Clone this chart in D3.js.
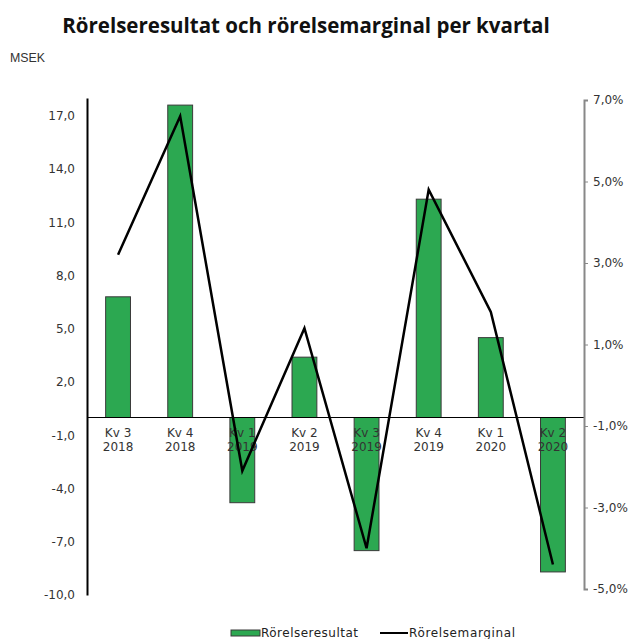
<!DOCTYPE html>
<html>
<head>
<meta charset="utf-8">
<script src="https://cdn.jsdelivr.net/npm/d3@7"></script>
<style>
    body { margin: 0; background: #fff; }
    svg { display: block; }
    .tick text { font-family: 'DejaVu Sans', Verdana, sans-serif; font-size: 12px; fill: #333; }
</style>
</head>
<body>
<svg id="chart"></svg>
<script>
const quarters = ['Kv 3', 'Kv 4', 'Kv 1', 'Kv 2', 'Kv 3', 'Kv 4', 'Kv 1', 'Kv 2'];
const years = ['2018', '2018', '2019', '2019', '2019', '2019', '2020', '2020'];
const resultat = [6.8, 17.6, -4.8, 3.4, -7.5, 12.3, 4.5, -8.7];
const marginal = [3.2, 6.6, -2.1, 1.4, -4.0, 4.8, 1.8, -4.4];
const leftTicks = [-10, -7, -4, -1, 2, 5, 8, 11, 14, 17];
const rightTicks = [-5, -3, -1, 1, 3, 5, 7];

const width = 633;
const height = 639;
const plotLeft = 87;
const plotRight = 584;

const svg = d3.select('#chart').attr('width', width).attr('height', height);

const idx = d3.range(quarters.length);

// Scales.
const x = d3.scaleBand().domain(idx).range([plotLeft, plotRight]).paddingInner(0.6).paddingOuter(0.3);
const y = d3.scaleLinear().domain([-10, 18]).range([595, 98]);
const y2 = d3.scaleLinear().domain([-5, 7]).range([589, 100]);

const comma = v => d3.format('.1f')(v).replace('.', ',').replace('−', '-');

// Title and unit.
svg.append('text')
    .attr('x', 306)
    .attr('y', 33)
    .attr('text-anchor', 'middle')
    .style('font-family', "'Open Sans', sans-serif")
    .style('font-weight', 'bold')
    .style('font-size', '20.5px')
    .style('fill', '#111')
    .text('Rörelseresultat och rörelsemarginal per kvartal');

svg.append('text')
    .attr('x', 10)
    .attr('y', 62)
    .attr('textLength', 35)
    .attr('lengthAdjust', 'spacingAndGlyphs')
    .style('font-family', "'Liberation Sans Narrow', 'Liberation Sans', sans-serif")
    .style('font-size', '13px')
    .style('fill', '#333')
    .text('MSEK');

// Bars.
svg.append('g')
    .selectAll('rect')
    .data(idx)
    .join('rect')
    .attr('x', i => x(i))
    .attr('y', i => y(Math.max(0, resultat[i])))
    .attr('width', x.bandwidth())
    .attr('height', i => Math.abs(y(resultat[i]) - y(0)))
    .attr('fill', '#2ca851')
    .attr('stroke', '#3a3a3a')
    .attr('stroke-width', 1);

// Zero line.
svg.append('line')
    .attr('x1', plotLeft)
    .attr('x2', plotRight)
    .attr('y1', y(0))
    .attr('y2', y(0))
    .attr('stroke', '#000')
    .attr('stroke-width', 1);

// Category labels.
const cat = svg.append('g')
    .selectAll('text')
    .data(idx)
    .join('text')
    .attr('text-anchor', 'middle')
    .attr('transform', i => `translate(${x(i) + x.bandwidth() / 2}, 437)`)
    .style('font-family', "'DejaVu Sans', Verdana, sans-serif")
    .style('font-size', '12px')
    .style('fill', '#333');
cat.append('tspan').attr('x', 0).attr('y', 0).text(i => quarters[i]);
cat.append('tspan').attr('x', 0).attr('y', 14).text(i => years[i]);

// Left axis.
const leftAxis = svg.append('g')
    .attr('transform', `translate(${plotLeft}, 0)`)
    .call(d3.axisLeft(y).tickValues(leftTicks).tickFormat(comma).tickSize(0).tickPadding(12));
leftAxis.select('.domain').attr('stroke', '#000').attr('stroke-width', 2);

// Right axis.
const rightAxis = svg.append('g')
    .attr('transform', `translate(${plotRight}, 0)`)
    .call(d3.axisRight(y2).tickValues(rightTicks).tickFormat(v => comma(v) + '%').tickSize(4).tickSizeOuter(4).tickPadding(5));
rightAxis.select('.domain').attr('stroke', '#888').attr('stroke-width', 2);
rightAxis.selectAll('.tick line').attr('stroke', '#888');

// Margin line.
const line = d3.line()
    .x(i => x(i) + x.bandwidth() / 2)
    .y(i => y2(marginal[i]));

svg.append('path')
    .datum(idx)
    .attr('d', line)
    .attr('fill', 'none')
    .attr('stroke', '#000')
    .attr('stroke-width', 2.5)
    .attr('stroke-linejoin', 'miter');

// Legend.
const legend = svg.append('g').style('font-family', "'DejaVu Sans', Verdana, sans-serif").style('font-size', '12px');
legend.append('rect')
    .attr('x', 231).attr('y', 630).attr('width', 29).attr('height', 6)
    .attr('fill', '#2ca851').attr('stroke', '#3a3a3a');
legend.append('text').attr('x', 261).attr('y', 637).attr('textLength', 97).style('fill', '#222').text('Rörelseresultat');
legend.append('line')
    .attr('x1', 380).attr('x2', 408).attr('y1', 633).attr('y2', 633)
    .attr('stroke', '#000').attr('stroke-width', 2);
legend.append('text').attr('x', 409).attr('y', 637).attr('textLength', 106).style('fill', '#222').text('Rörelsemarginal');
</script>
</body>
</html>
